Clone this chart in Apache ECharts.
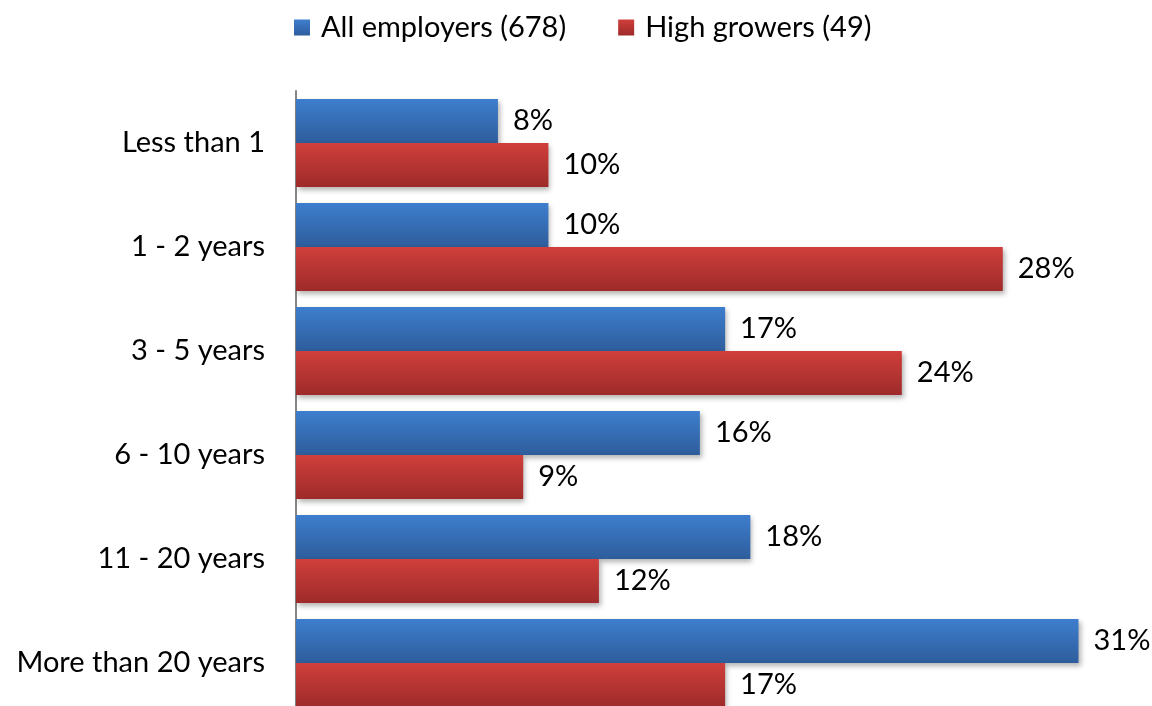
<!DOCTYPE html>
<html>
<head>
<meta charset="utf-8">
<script src="https://cdn.jsdelivr.net/npm/echarts@6/dist/echarts.min.js"></script>
<style>
  html, body { margin: 0; padding: 0; background: #fff; overflow: hidden; }
  #chart { width: 1152px; height: 716px; }
</style>
</head>
<body>
<div id="chart"></div>
<script>
// Years in business, share of respondents per group
const categories = ['Less than 1', '1 - 2 years', '3 - 5 years', '6 - 10 years', '11 - 20 years', 'More than 20 years'];
const seriesNames = ['All employers (678)', 'High growers (49)'];
const allEmployers = [8, 10, 17, 16, 18, 31];
const highGrowers = [10, 28, 24, 9, 12, 17];

const FONT = 'Lato, "Open Sans", sans-serif';
const FONT_SIZE = 29;

function grad(top, bottom) {
  return new echarts.graphic.LinearGradient(0, 0, 0, 1, [
    { offset: 0, color: top },
    { offset: 1, color: bottom }
  ]);
}

function barSeries(name, data, top, bottom) {
  return {
    name: name,
    type: 'bar',
    data: data,
    barWidth: 44,
    barGap: '0%',
    itemStyle: {
      color: grad(top, bottom),
      shadowBlur: 5,
      shadowOffsetX: 2,
      shadowOffsetY: 3,
      shadowColor: 'rgba(0,0,0,0.3)'
    },
    label: {
      show: true,
      position: 'right',
      distance: 15,
      formatter: '{c}%',
      color: '#000',
      fontFamily: FONT,
      fontSize: FONT_SIZE
    }
  };
}

const chart = echarts.init(document.getElementById('chart'));
chart.setOption({
  animation: false,
  legend: {
    top: 8,
    left: 289,
    itemWidth: 16,
    itemHeight: 16,
    itemGap: 52,
    icon: 'rect',
    textStyle: { fontFamily: FONT, fontSize: FONT_SIZE, color: '#000', padding: [0, 0, 0, 6] },
    data: seriesNames
  },
  grid: { left: 296, top: 91, height: 624, width: 833 },
  xAxis: {
    type: 'value',
    min: 0,
    max: 33,
    show: false
  },
  yAxis: {
    type: 'category',
    data: categories,
    inverse: true,
    axisLine: { show: true, lineStyle: { color: '#868686', width: 2 } },
    axisTick: { show: false },
    axisLabel: { margin: 31, color: '#000', fontFamily: FONT, fontSize: FONT_SIZE }
  },
  series: [
    barSeries(seriesNames[0], allEmployers, '#3E7ECE', '#2E5D9C'),
    barSeries(seriesNames[1], highGrowers, '#D03F3B', '#9D2B2A')
  ]
});
</script>
</body>
</html>
